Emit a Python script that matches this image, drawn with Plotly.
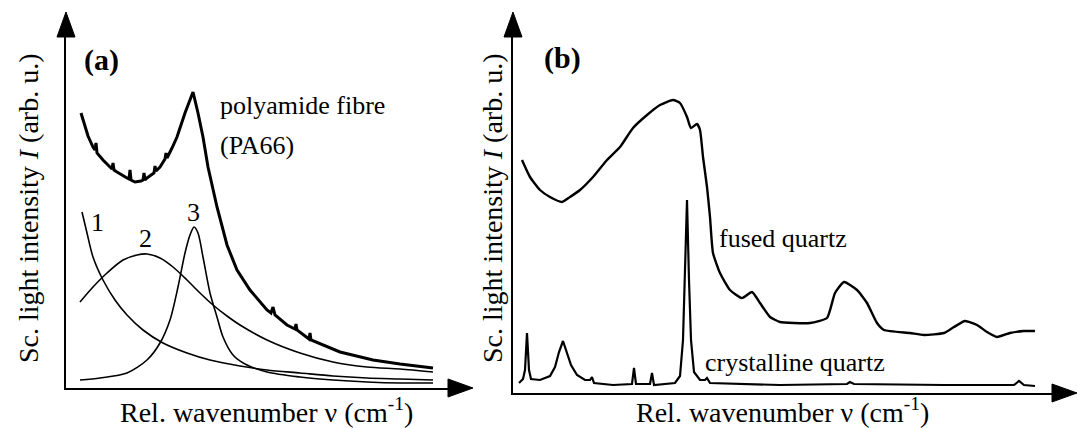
import plotly.graph_objects as go

W, H = 1077, 428
FONT = "Liberation Serif, Times New Roman, serif"

# ---------------- Panel (a): polyamide fibre (arbitrary units) ----------------
pa66_x = [15, 19, 22, 27, 29, 30, 31, 37, 44, 46, 47, 48, 51, 57, 61, 63, 64, 65, 69, 75, 77, 78, 79,
          81, 86, 88, 89, 90, 94, 99, 100, 101, 106, 111, 119, 127, 132, 137, 142, 151, 161, 171,
          184, 201, 205, 207, 209, 221, 229, 230, 231, 243, 244, 245, 274, 307, 334, 367]
pa66_y = [275, 261, 252, 241, 238, 245, 235, 228, 221, 219, 225, 218, 216, 212, 210, 209, 218, 208, 206, 207, 208, 215, 208,
          210, 213, 215, 222, 217, 221, 229, 235, 230, 240, 251, 275, 296, 275, 251, 221, 181, 143, 118,
          98, 78, 75, 81, 73, 63, 59, 64, 58, 49, 55, 48, 36, 28, 24, 20]

comp1_x = [16, 21, 27, 37, 49, 61, 77, 97, 121, 144, 174, 201, 234, 267, 301, 334, 367]
comp1_y = [176, 155, 131, 108, 88, 73, 58, 45, 35, 28, 22, 18, 15, 12, 10, 9, 8]

comp2_x = [14, 27, 41, 57, 71, 81, 94, 107, 121, 134, 147, 161, 174, 201, 234, 267, 301, 334, 367]
comp2_y = [86, 101, 115, 128, 133, 134, 130, 121, 108, 95, 83, 72, 63, 48, 35, 26, 21, 19, 16]

comp3_x = [14, 34, 61, 81, 94, 104, 112, 119, 124, 128, 132, 137, 144, 151, 157, 167, 179, 201, 234, 267, 301, 334, 367]
comp3_y = [8, 10, 15, 28, 45, 68, 101, 135, 153, 161, 155, 131, 95, 71, 51, 33, 24, 16, 11, 8, 6, 5, 5]

# ---------------- Panel (b): quartz (arbitrary units) ----------------
fused_x = [9, 17, 27, 37, 49, 57, 67, 80, 94, 107, 120, 134, 147, 160, 167, 174, 178, 184, 187, 190,
           194, 197, 200, 207, 217, 229, 239, 247, 257, 267, 281, 297, 314, 322, 331, 344, 354, 364,
           371, 397, 411, 431, 441, 452, 464, 474, 484, 497, 511, 522]
fused_y = [233, 216, 203, 196, 191, 196, 203, 216, 233, 246, 265, 278, 288, 293, 290, 276, 265, 269, 263, 236,
           206, 176, 140, 120, 103, 95, 101, 90, 76, 71, 70, 70, 75, 100, 111, 103, 90, 70,
           63, 60, 58, 60, 66, 72, 68, 61, 56, 60, 62, 62]

cryst_x = [6, 10, 12, 14, 16, 18, 27, 37, 42, 46, 50, 54, 58, 64, 72, 77, 79, 81, 100, 119, 121, 123,
           137, 139, 141, 162, 167, 170, 172, 174, 176, 178, 181, 187, 192, 194, 197, 267, 334, 337,
           341, 431, 501, 506, 511, 522]
cryst_y = [10, 14, 23, 60, 23, 14, 13, 17, 26, 41, 52, 41, 28, 18, 13, 13, 16, 10, 8, 9, 25, 9,
           9, 20, 8, 10, 17, 53, 113, 193, 113, 53, 21, 13, 13, 15, 10, 8, 9, 11,
           9, 8, 8, 12, 8, 7]

# text labels
peak_labels = ["1", "2", "3"]
peak_label_x = [31, 79, 127]
peak_label_y = [166, 150, 176]

fig = go.Figure()

fig.add_trace(go.Scatter(x=pa66_x, y=pa66_y, mode="lines", line=dict(color="black", width=3, shape="linear"),
                         xaxis="x", yaxis="y", hoverinfo="skip"))
for cx, cy in [(comp1_x, comp1_y), (comp2_x, comp2_y), (comp3_x, comp3_y)]:
    fig.add_trace(go.Scatter(x=cx, y=cy, mode="lines",
                             line=dict(color="black", width=1.6, shape="spline", smoothing=0.8),
                             xaxis="x", yaxis="y", hoverinfo="skip"))

fig.add_trace(go.Scatter(x=fused_x, y=fused_y, mode="lines",
                         line=dict(color="black", width=2.4, shape="spline", smoothing=0.5),
                         xaxis="x2", yaxis="y2", hoverinfo="skip"))
fig.add_trace(go.Scatter(x=cryst_x, y=cryst_y, mode="lines",
                         line=dict(color="black", width=2.2, shape="linear"),
                         xaxis="x2", yaxis="y2", hoverinfo="skip"))


def px(x):
    return x / W


def py(y):
    return 1 - y / H


ax_common = dict(showgrid=False, zeroline=False, showticklabels=False, ticks="",
                 showline=True, linecolor="black", linewidth=2, fixedrange=True)

fig.update_layout(
    width=W, height=H, autosize=False,
    margin=dict(l=0, r=0, t=0, b=0),
    paper_bgcolor="white", plot_bgcolor="white",
    showlegend=False,
    xaxis=dict(domain=[px(66), px(462)], range=[0, 396], anchor="y", **ax_common),
    yaxis=dict(domain=[py(388), py(25)], range=[0, 363], anchor="x", **ax_common),
    xaxis2=dict(domain=[px(513), px(1064)], range=[0, 551], anchor="y2", **ax_common),
    yaxis2=dict(domain=[py(393), py(25)], range=[0, 368], anchor="x2", **ax_common),
)


def tri(p1, p2, p3):
    pts = [p1, p2, p3]
    s = "M " + " L ".join(f"{px(a):.5f},{py(b):.5f}" for a, b in pts) + " Z"
    return dict(type="path", path=s, xref="paper", yref="paper",
                fillcolor="black", line=dict(color="black", width=1))


fig.update_layout(shapes=[
    tri((66, 12), (57, 37), (75, 37)),
    tri((473, 388), (448, 379), (448, 397)),
    tri((513, 12), (504, 37), (522, 37)),
    tri((1077, 393), (1052, 384), (1052, 402)),
])

ann = []
tf = dict(family=FONT, size=26, color="black")
for t, x, y in zip(peak_labels, peak_label_x, peak_label_y):
    ann.append(dict(text=t, x=x, y=y, xref="x", yref="y", showarrow=False, font=tf,
                    xanchor="center", yanchor="middle"))
ann.append(dict(text="polyamide fibre", x=152, y=283, xref="x", yref="y", xanchor="left",
                yanchor="middle", showarrow=False, font=tf))
ann.append(dict(text="(PA66)", x=152, y=243, xref="x", yref="y", xanchor="left",
                yanchor="middle", showarrow=False, font=tf))
ann.append(dict(text="<b>(a)</b>", x=35, y=328, xref="x", yref="y", showarrow=False,
                xanchor="center", yanchor="middle",
                font=dict(family=FONT, size=30, color="black")))
ann.append(dict(text="<b>(b)</b>", x=49, y=335, xref="x2", yref="y2", showarrow=False,
                xanchor="center", yanchor="middle",
                font=dict(family=FONT, size=30, color="black")))
ann.append(dict(text="fused quartz", x=204, y=155, xref="x2", yref="y2", xanchor="left",
                yanchor="middle", showarrow=False, font=tf))
ann.append(dict(text="crystalline quartz", x=190, y=31, xref="x2", yref="y2", xanchor="left",
                yanchor="middle", showarrow=False, font=tf))

af = dict(family=FONT, size=28, color="black")
ytitle = "Sc. light intensity <i>I</i> (arb. u.)"
xtitle = "Rel. wavenumber ν (cm<sup>-1</sup>)"
for cx in [28, 492]:
    ann.append(dict(text=ytitle, x=px(cx), y=py(208), xref="paper", yref="paper", textangle=-90,
                    xanchor="center", yanchor="middle", showarrow=False, font=af))
for cx in [266, 782]:
    ann.append(dict(text=xtitle, x=px(cx), y=py(410), xref="paper", yref="paper",
                    xanchor="center", yanchor="middle", showarrow=False, font=af))

fig.update_layout(annotations=ann)

fig.write_html("out.html", config={"displayModeBar": False},
               post_script="document.body.style.margin='0';document.body.style.overflow='hidden';")
